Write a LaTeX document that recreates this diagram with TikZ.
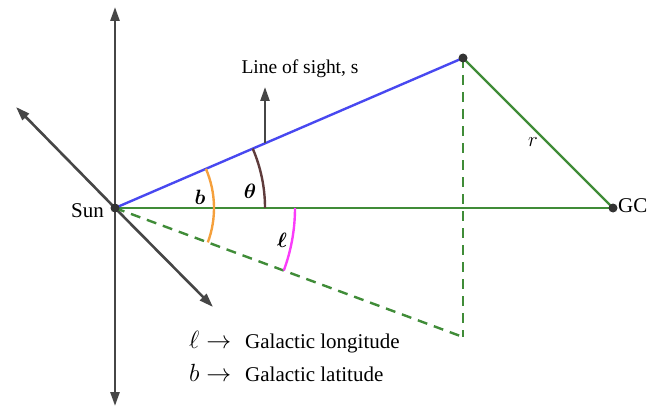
\documentclass[tikz,border=0pt]{standalone}
\usepackage{amsmath}
\usepackage{bm}
\usepackage{fontspec}
\setmainfont{Liberation Serif}
\usetikzlibrary{arrows.meta}
\definecolor{losblue}{RGB}{72,72,240}
\definecolor{galgreen}{RGB}{64,140,56}
\definecolor{axisgray}{RGB}{70,70,70}
\definecolor{borange}{RGB}{245,160,60}
\definecolor{tbrown}{RGB}{95,60,60}
\definecolor{lmag}{RGB}{250,60,250}
\newcommand{\legsym}[1]{\makebox[56pt][l]{\fontsize{25}{28}\selectfont$#1\rightarrow$}}
\tikzset{
  axis/.style={draw=axisgray,line width=2.6pt,-{Triangle[length=14pt,width=9pt]}},
  dot/.style={circle,fill=black!80,inner sep=0pt,minimum size=9pt},
  gline/.style={draw=galgreen,line width=2.4pt},
  gdash/.style={draw=galgreen,line width=2.4pt,dash pattern=on 10pt off 7pt},
  lbl/.style={font=\fontsize{21}{25}\selectfont},
  slbl/.style={font=\fontsize{19.5}{23}\selectfont},
}
\begin{document}
\begin{tikzpicture}[x=1pt,y=1pt]
\useasboundingbox (0,0) rectangle (670,408);
\coordinate (sunc) at (115,200);
\coordinate (ztop) at (115,401);
\coordinate (zbot) at (115,2);
\coordinate (xtip) at (16,301);
\coordinate (ytip) at (213,101);
\coordinate (foot) at (463,71);
\coordinate (losbase) at (265,265);
\coordinate (lostip) at (265,321);
% axes
\draw[axis] (sunc) -- (ztop);
\draw[axis] (sunc) -- (zbot);
\draw[axis] (sunc) -- (xtip);
\draw[axis] (sunc) -- (ytip);
% green lines
\draw[gline] (sunc) -- (613,200) coordinate (gcc);
\draw[gdash] (sunc) -- (foot);
\draw[gdash] (463,350) coordinate (starc) -- (foot);
\draw[gline] (starc) -- (gcc);
% line of sight
\draw[draw=losblue,line width=2.4pt] (sunc) -- (starc);
\draw[axis,line width=2.4pt] (losbase) -- (lostip);
% arcs
\draw[borange,line width=2.4pt] ([shift={(23.32:99)}]sunc) arc[start angle=23.32,end angle=-20.34,radius=99];
\draw[tbrown,line width=2.4pt] ([shift={(23.32:150)}]sunc) arc[start angle=23.32,end angle=0,radius=150];
\draw[lmag,line width=2.4pt] ([shift={(0:180)}]sunc) arc[start angle=0,end angle=-20.34,radius=180];
% dots
\node[dot] (sun) at (sunc) {};
\node[dot] (gc) at (gcc) {};
\node[dot] (star) at (starc) {};
% labels
\node[lbl,anchor=east,inner sep=0pt] (sunlbl) at (104,197) {Sun};
\node[lbl,anchor=west,inner sep=0pt] (gclbl) at (618,202) {GC};
\node[slbl] (loslbl) at (300,339) {Line of sight, s};
\node[lbl] (blbl) at (200,211) {$\bm{b}$};
\node[lbl] (tlbl) at (250,217) {$\bm{\theta}$};
\node[lbl] (llbl) at (282,168) {$\bm{\ell}$};
\node[lbl] (rlbl) at (533,266) {$r$};
\node[lbl,anchor=west,inner sep=0pt] (leg1) at (189,66) {\legsym{\ell}Galactic longitude};
\node[lbl,anchor=west,inner sep=0pt] (leg2) at (189,35) {\legsym{b}Galactic latitude};
\end{tikzpicture}
\end{document}
